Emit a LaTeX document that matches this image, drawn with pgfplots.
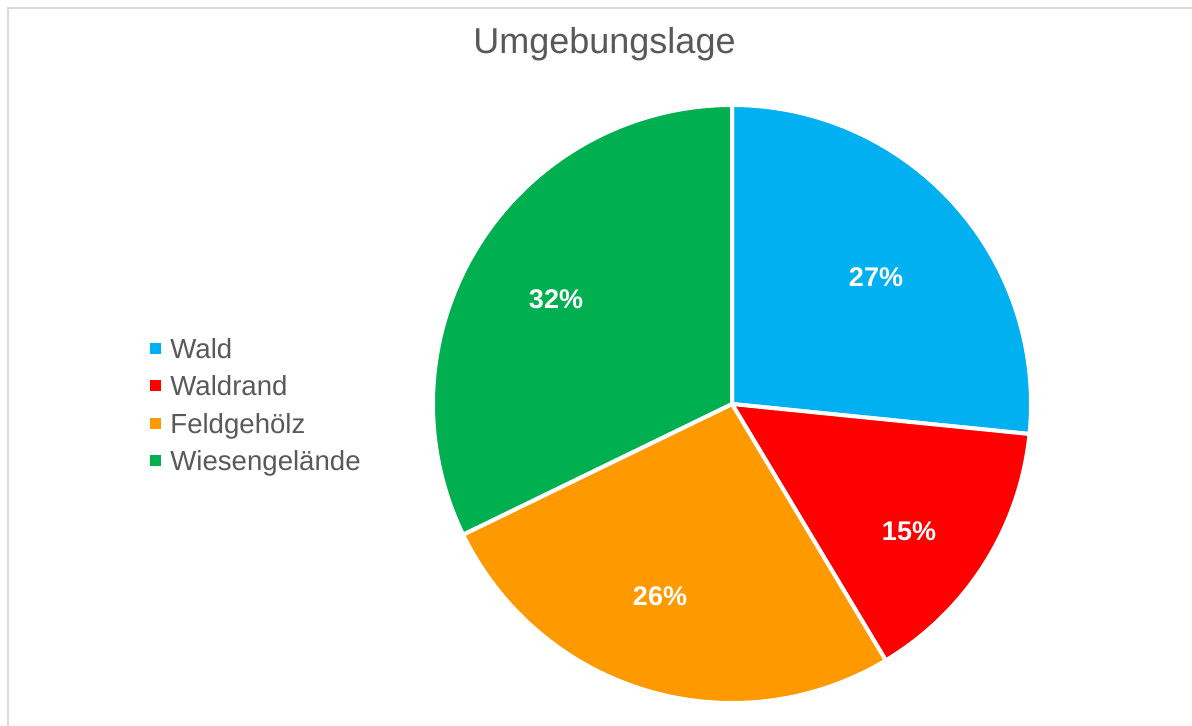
\documentclass[border=0pt]{standalone}
\usepackage{pgfplots}
\pgfplotsset{compat=1.18}
\usepackage{fontspec}
\setmainfont{Liberation Sans}
\definecolor{cWald}{HTML}{00B0F0}
\definecolor{cRand}{HTML}{FF0000}
\definecolor{cFeld}{HTML}{FF9900}
\definecolor{cWiese}{HTML}{00B050}
\definecolor{txt}{HTML}{595959}
\definecolor{frame}{HTML}{D9D9D9}
% shares in percent
\def\vA{26.6}\def\vB{14.8}\def\vC{26.4}\def\vD{32.2}
\pgfmathsetmacro\aA{90}
\pgfmathsetmacro\aB{\aA-3.6*\vA}
\pgfmathsetmacro\aC{\aB-3.6*\vB}
\pgfmathsetmacro\aD{\aC-3.6*\vC}
\pgfmathsetmacro\aE{\aD-3.6*\vD}
\begin{document}
\begin{tikzpicture}
\path[use as bounding box] (0,0) rectangle (596bp,363bp);
\begin{axis}[at={(0,0)}, anchor=south west, width=596bp, height=363bp, scale only axis,
 xmin=0, xmax=1192, ymin=0, ymax=726, hide axis, clip=false,
 legend style={at={(axis cs:150,388)}, anchor=north west, draw=none, fill=none, inner sep=0pt,
   row sep=8.8bp, font=\fontsize{13.8bp}{16bp}\selectfont, text=txt,
   nodes={inner xsep=4.5bp, inner ysep=0pt, text height=9.94bp, text depth=0pt}},
 legend image code/.code={\fill[#1,draw=none] (0bp,-2.75bp) rectangle (5.5bp,2.75bp);},
 legend cell align=left]
\addplot[frame, line width=1bp, forget plot] coordinates {(7.5,0) (7.5,717.5) (1192,717.5)};
\addplot[fill=cWald, draw=white, line width=2bp, line join=round, domain=\aB:\aA, samples=90, variable=\t]
  ({732+299*cos(\t)},{322+299*sin(\t)}) -- (axis cs:732,322) -- cycle;
\addlegendentry{Wald}
\addplot[fill=cRand, draw=white, line width=2bp, line join=round, domain=\aC:\aB, samples=60, variable=\t]
  ({732+299*cos(\t)},{322+299*sin(\t)}) -- (axis cs:732,322) -- cycle;
\addlegendentry{Waldrand}
\addplot[fill=cFeld, draw=white, line width=2bp, line join=round, domain=\aD:\aC, samples=90, variable=\t]
  ({732+299*cos(\t)},{322+299*sin(\t)}) -- (axis cs:732,322) -- cycle;
\addlegendentry{Feldgehölz}
\addplot[fill=cWiese, draw=white, line width=2bp, line join=round, domain=\aE:\aD, samples=100, variable=\t]
  ({732+299*cos(\t)},{322+299*sin(\t)}) -- (axis cs:732,322) -- cycle;
\addlegendentry{Wiesengelände}
\node[anchor=base, text=txt, font=\fontsize{18bp}{22bp}\selectfont, inner sep=0pt] at (axis cs:604.5,672) {Umgebungslage};
\begin{scope}[every node/.style={anchor=base, text=white, inner sep=0pt, font=\fontsize{13.5bp}{16bp}\selectfont\bfseries}]
\node at (axis cs:876,439) {\pgfmathprintnumber[fixed,precision=0,assume math mode=true]{\vA}\%};
\node at (axis cs:909,185) {\pgfmathprintnumber[fixed,precision=0,assume math mode=true]{\vB}\%};
\node at (axis cs:660,120) {\pgfmathprintnumber[fixed,precision=0,assume math mode=true]{\vC}\%};
\node at (axis cs:556,417) {\pgfmathprintnumber[fixed,precision=0,assume math mode=true]{\vD}\%};
\end{scope}
\end{axis}
\end{tikzpicture}
\end{document}
